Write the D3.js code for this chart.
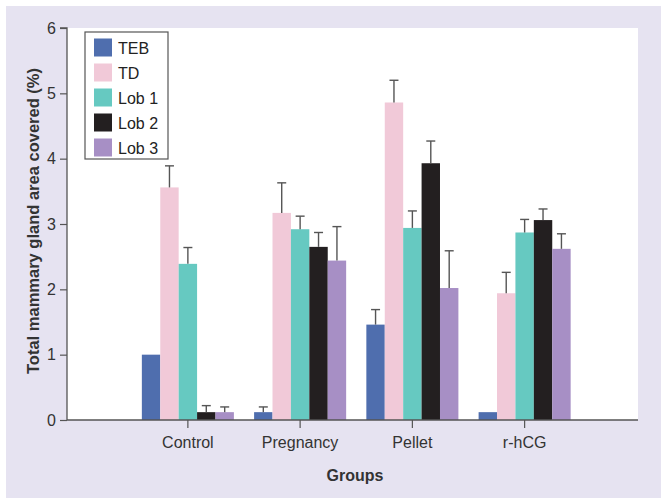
<!DOCTYPE html>
<html><head><meta charset="utf-8">
<script src="https://cdn.jsdelivr.net/npm/d3@7"></script>
<style>body{margin:0;background:#fff;} svg{display:block;font-family:"Liberation Sans",Arial,sans-serif;}</style>
</head><body><div id="chart"></div>
<script>
const groups = ["Control", "Pregnancy", "Pellet", "r-hCG"];
const seriesNames = ["TEB", "TD", "Lob 1", "Lob 2", "Lob 3"];
const seriesColors = ["#4f6eae", "#f1c9d8", "#66c9c1", "#231f20", "#a78fc5"];
const TEB   = [1.00, 0.12, 1.46, 0.12];
const TD    = [3.56, 3.17, 4.86, 1.94];
const Lob1  = [2.39, 2.92, 2.94, 2.87];
const Lob2  = [0.12, 2.65, 3.93, 3.06];
const Lob3  = [0.12, 2.44, 2.02, 2.62];
const TEBerr  = [null, 0.20, 1.69, null];
const TDerr   = [3.89, 3.63, 5.20, 2.26];
const Lob1err = [2.64, 3.12, 3.20, 3.07];
const Lob2err = [0.22, 2.87, 4.27, 3.23];
const Lob3err = [0.20, 2.96, 2.59, 2.85];
const yTicks = [0, 1, 2, 3, 4, 5, 6];

const values = [TEB, TD, Lob1, Lob2, Lob3];
const errs = [TEBerr, TDerr, Lob1err, Lob2err, Lob3err];

const W = 668, H = 504;
const svg = d3.select("#chart").append("svg").attr("width", W).attr("height", H);
svg.append("rect").attr("x", 6).attr("y", 6).attr("width", 655).attr("height", 492).attr("fill", "#e6e3f1");

const pL = 67, pR = 638, pT = 28, pB = 420;
svg.append("rect").attr("x", pL).attr("y", pT).attr("width", pR - pL).attr("height", pB - pT).attr("fill", "#fff");

const x = d3.scaleBand().domain(groups).range([pL + 7.5, pR]).paddingInner(0.18).paddingOuter(0.6);
const xs = d3.scaleBand().domain(d3.range(seriesNames.length)).range([0, x.bandwidth()]);
const y = d3.scaleLinear().domain([0, 6]).range([pB, pT]);

const axisColor = "#555";
const textColor = "#333";

// bars
values.forEach((vals, si) => {
  svg.append("g").selectAll("rect").data(vals).join("rect")
    .attr("x", (d, i) => x(groups[i]) + xs(si))
    .attr("width", xs.bandwidth())
    .attr("y", d => y(d))
    .attr("height", d => y(0) - y(d))
    .attr("fill", seriesColors[si]);
});
// error bars
errs.forEach((ev, si) => {
  const g = svg.append("g").attr("stroke", "#555").attr("stroke-width", 1.4);
  ev.forEach((e, i) => {
    if (e == null) return;
    const cx = x(groups[i]) + xs(si) + xs.bandwidth() / 2;
    g.append("line").attr("x1", cx).attr("x2", cx).attr("y1", y(values[si][i])).attr("y2", y(e));
    g.append("line").attr("x1", cx - 4.5).attr("x2", cx + 4.5).attr("y1", y(e)).attr("y2", y(e));
  });
});

// y axis
const yAxis = svg.append("g").attr("transform", `translate(${pL},0)`)
  .call(d3.axisLeft(y).tickValues(yTicks).tickSize(7).tickPadding(4).tickFormat(d3.format("d")));
yAxis.select(".domain").attr("stroke", axisColor).attr("stroke-width", 1.3).attr("d", `M-7,${y(6)}H0V${y(0)}`);
yAxis.selectAll(".tick line").attr("stroke", axisColor).attr("stroke-width", 1.2);
yAxis.selectAll(".tick text").attr("fill", textColor).attr("font-size", 16).attr("font-family", "Liberation Sans, Arial, sans-serif");

// x axis
const xAxis = svg.append("g").attr("transform", `translate(0,${pB})`)
  .call(d3.axisBottom(x).tickSize(8).tickPadding(9));
xAxis.select(".domain").attr("stroke", axisColor).attr("stroke-width", 1.3).attr("d", `M${pL},0H${pR}`);
xAxis.selectAll(".tick line").attr("stroke", axisColor).attr("stroke-width", 1.2);
xAxis.selectAll(".tick text").attr("fill", textColor).attr("font-size", 16).attr("font-family", "Liberation Sans, Arial, sans-serif");

// titles
svg.append("text").attr("transform", `translate(39,221) rotate(-90)`)
  .attr("text-anchor", "middle").attr("font-weight", "bold").attr("font-size", 16.5).attr("fill", "#333")
  .text("Total mammary gland area covered (%)");
svg.append("text").attr("x", 355).attr("y", 481).attr("text-anchor", "middle")
  .attr("font-weight", "bold").attr("font-size", 16).attr("fill", "#333").text("Groups");

// legend
const lg = svg.append("g");
lg.append("rect").attr("x", 85).attr("y", 32).attr("width", 83).attr("height", 127)
  .attr("fill", "#fff").attr("stroke", "#555").attr("stroke-width", 1.2);
seriesNames.forEach((n, i) => {
  const cy = 47.5 + i * 25;
  lg.append("rect").attr("x", 94).attr("y", cy - 9).attr("width", 18).attr("height", 18).attr("fill", seriesColors[i]);
  lg.append("text").attr("x", 118).attr("y", cy + 6).attr("font-size", 16).attr("fill", "#222").text(n);
});
</script></body></html>
